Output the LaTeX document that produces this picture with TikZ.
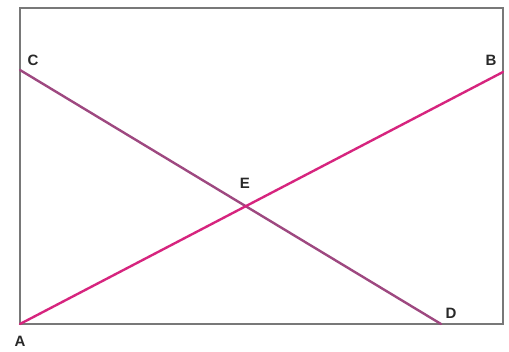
\documentclass[tikz,border=0pt]{standalone}
\usepackage{fontspec}
\setmainfont{Liberation Sans}
\definecolor{magline}{RGB}{214,36,126}
\definecolor{purpline}{RGB}{158,72,128}
\definecolor{framegray}{RGB}{120,120,120}
\definecolor{labelgray}{RGB}{40,40,40}
\begin{document}
\begin{tikzpicture}[x=1pt,y=-1pt,
  lbl/.style={font=\bfseries\fontsize{15}{16}\selectfont,text=labelgray,inner sep=0pt},
  seg/.style={line width=2.4pt,line cap=round}]
\useasboundingbox (0,0) rectangle (509,351);
\draw[framegray,line width=1.3pt] (20,8) rectangle (503,324);
\coordinate (A) at (20,324);
\coordinate (B) at (503,72);
\coordinate (C) at (20,70);
\coordinate (D) at (441,324);
\draw[seg,purpline] (C) -- (D);
\draw[seg,magline] (A) -- (B);
\coordinate (E) at (245,206.6);
\node[lbl] (lA) at (20,341) {A};
\node[lbl] (lB) at (491,60) {B};
\node[lbl] (lC) at (33,60) {C};
\node[lbl] (lD) at (451,313) {D};
\node[lbl] (lE) at (245,183) {E};
\end{tikzpicture}
\end{document}
